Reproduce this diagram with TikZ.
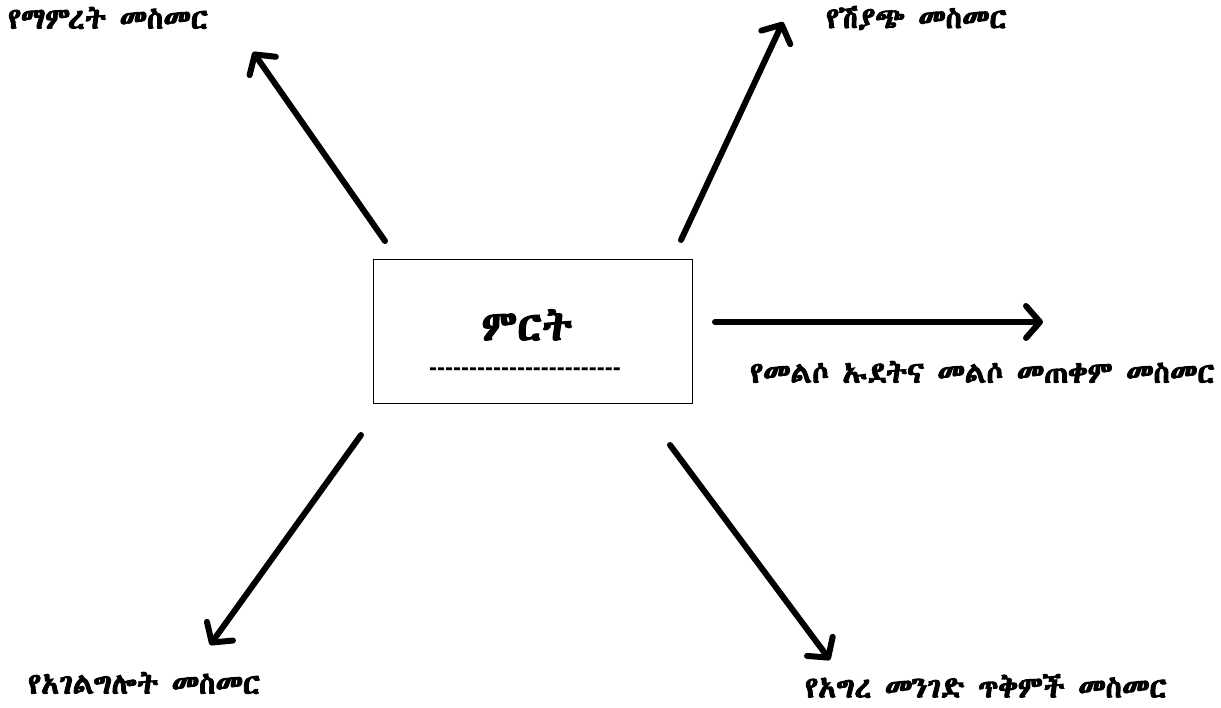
\documentclass[tikz,border=0pt]{standalone}
\usepackage{fontspec}
\usetikzlibrary{arrows.meta}
\newfontfamily\ethfont[AutoFakeBold=3]{Abyssinica SIL}
\newfontfamily\hyfont{Liberation Sans}
\tikzset{
  lbl/.style={font=\ethfont\fontsize{29.5}{31}\selectfont\bfseries, inner sep=0pt, anchor=west},
  arr/.style={line width=6pt, -{Straight Barb[round,length=14pt,width=32pt,line width=6pt]}, line cap=round},
  box/.style={draw, line width=1pt, minimum width=319pt, minimum height=144pt, inner sep=0pt}
}
\begin{document}
\begin{tikzpicture}[x=1pt,y=-1pt]
\useasboundingbox (0,0) rectangle (1221,708);
\node[box] (box) at (532.5,332) {};
\node[font=\ethfont\fontsize{42}{46}\selectfont\bfseries, inner sep=0pt] (prod) at (527,325) {ምርት};
\node[font=\hyfont\fontsize{24}{26}\selectfont\bfseries, inner sep=0pt] (dash) at (525,372) {------------------------};
\node[lbl] (l1) at (8,18) {የማምረት መስመር};
\node[lbl] (l2) at (826,18) {የሽያጭ መስመር};
\node[lbl] (l3) at (750,372) {የመልሶ ኡደትና መልሶ መጠቀም መስመር};
\node[lbl] (l4) at (28,683) {የአገልግሎት መስመር};
\node[lbl] (l5) at (805,686) {የአግረ መንገድ ጥቅምች መስመር};
\coordinate (s1) at (385,241); \coordinate (t1) at (253,52);
\coordinate (s2) at (681,240); \coordinate (t2) at (783,22);
\coordinate (s3) at (715,322); \coordinate (t3) at (1043,322);
\coordinate (s4) at (361,435); \coordinate (t4) at (210,645);
\coordinate (s5) at (670,445); \coordinate (t5) at (830,660);
\draw[arr] (s1) -- (t1);
\draw[arr] (s2) -- (t2);
\draw[arr] (s3) -- (t3);
\draw[arr] (s4) -- (t4);
\draw[arr] (s5) -- (t5);
\end{tikzpicture}
\end{document}
